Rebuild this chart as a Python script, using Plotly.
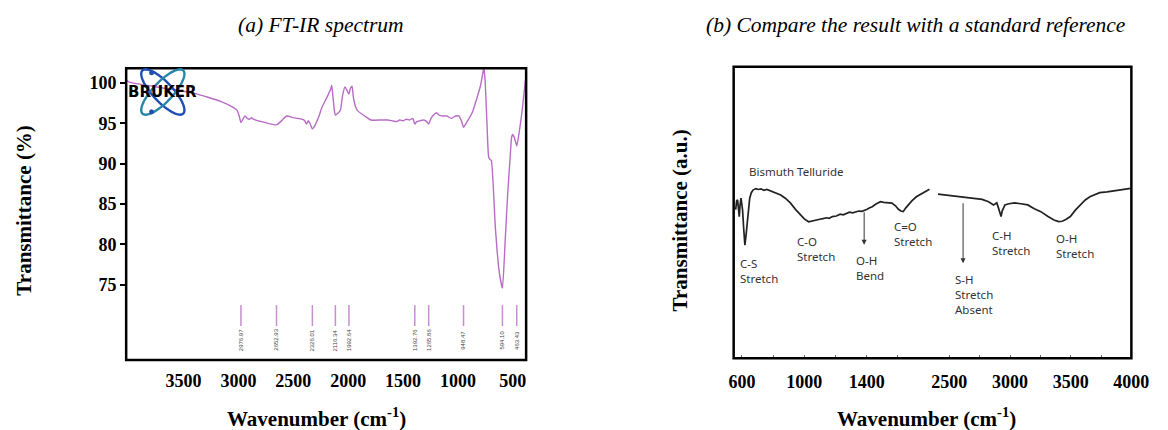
import math
import plotly.graph_objects as go

W, H = 1168, 430

# ---------------- panel (a): FT-IR spectrum ----------------
ftir_wavenumber = [4020, 3995, 3700, 3400, 3162, 3040, 3012, 2995, 2977, 2955, 2940, 2920, 2900, 2880,
                   2864, 2760, 2653, 2600, 2560, 2500, 2420, 2395, 2380, 2363, 2348, 2326, 2300, 2268,
                   2238, 2190, 2160, 2150, 2140, 2125, 2116, 2095, 2071, 2050, 2029, 2015, 1993, 1980,
                   1965, 1950, 1925, 1910, 1850, 1791, 1700, 1640, 1600, 1560, 1530, 1500, 1470, 1440,
                   1410, 1393, 1375, 1350, 1310, 1285, 1266, 1245, 1215, 1195, 1170, 1135, 1100, 1061,
                   1020, 992, 965, 948, 920, 867, 793, 770, 764, 752, 735, 719, 705, 695, 659, 625,
                   594, 570, 545, 525, 510, 501, 485, 463, 440, 415, 385]
ftir_transmittance = [100.3, 100.1, 99.4, 98.7, 97.7, 96.9, 96.6, 96.0, 95.1, 95.6, 95.9, 95.6, 95.5, 95.7,
                      95.5, 95.1, 94.8, 95.4, 95.9, 95.7, 95.5, 95.3, 94.9, 95.3, 95.0, 94.3, 94.8, 95.8,
                      97.0, 98.3, 99.2, 99.7, 98.5, 96.5, 96.0, 96.2, 96.6, 98.5, 99.5, 99.2, 98.6, 99.3,
                      99.6, 98.0, 96.8, 96.5, 95.9, 95.4, 95.4, 95.4, 95.3, 95.2, 95.4, 95.3, 95.5, 95.4,
                      95.6, 94.9, 95.2, 95.3, 95.4, 95.2, 94.9, 95.6, 96.1, 96.3, 96.0, 95.9, 95.9, 95.6,
                      95.9, 95.9, 95.2, 94.5, 95.1, 96.4, 99.7, 101.4, 101.9, 100.3, 95.0, 90.8, 90.5, 90.4,
                      82.2, 76.8, 74.6, 80.2, 86.5, 90.5, 93.3, 93.6, 93.2, 92.2, 94.0, 96.5, 100.3]
peak_wavenumbers = [2976.97, 2652.93, 2326.01, 2116.34, 1992.64, 1392.76, 1265.86, 948.47, 594.10, 463.43]
peak_labels = ["2976.97", "2652.93", "2326.01", "2116.34", "1992.64",
               "1392.76", "1265.86", "948.47", "594.10", "463.43"]
a_yticks = [75, 80, 85, 90, 95, 100]
a_xticks = [3500, 3000, 2500, 2000, 1500, 1000, 500]

# ---------------- panel (b): standard reference ----------------
ref_low_wavenumber = [560, 566, 572, 578, 583, 588, 594, 599, 604, 612, 619, 626, 635, 643, 650, 660,
                      671, 690, 705, 723, 740, 760, 786, 810, 830, 849, 880, 912, 945, 975, 1000, 1028,
                      1050, 1080, 1100, 1120, 1143, 1160, 1180, 1206, 1230, 1250, 1269, 1290, 1310, 1332,
                      1350, 1370, 1384, 1400, 1420, 1436, 1460, 1489, 1510, 1540, 1562, 1585, 1604, 1620,
                      1635, 1650, 1667, 1690, 1719, 1740, 1772, 1803]
ref_low_signal = [51.0, 54.0, 54.3, 50.0, 48.6, 52.5, 54.9, 53.0, 50.9, 44.0, 38.8, 42.0, 47.4, 52.0, 54.9, 56.8,
                  57.7, 58.2, 57.9, 58.1, 57.6, 57.9, 57.4, 56.9, 56.5, 56.0, 54.8, 53.2, 51.0, 49.1, 47.8, 46.8,
                  47.0, 47.4, 47.7, 47.9, 48.2, 48.0, 48.6, 48.8, 49.4, 49.2, 49.7, 50.1, 49.9, 50.3,
                  50.5, 50.4, 50.6, 51.0, 51.6, 52.0, 52.9, 53.7, 53.5, 53.3, 53.2, 52.3, 51.1, 50.5,
                  50.3, 51.5, 52.6, 54.0, 55.4, 56.1, 57.1, 58.0]
ref_high_wavenumber = [2406, 2450, 2500, 2581, 2650, 2716, 2770, 2823, 2850, 2864, 2880, 2891, 2905, 2918,
                       2926, 2935, 2950, 2958, 2990, 3039, 3090, 3146, 3200, 3254, 3310, 3362, 3400, 3429,
                       3460, 3497, 3540, 3578, 3620, 3658, 3700, 3739, 3800, 3873, 3940, 3994]
ref_high_signal = [56.3, 56.1, 55.9, 55.5, 55.3, 54.9, 54.5, 53.7, 53.0, 52.6, 53.0, 53.3, 51.5, 49.0,
                   48.6, 50.5, 52.3, 52.6, 53.0, 53.3, 53.0, 52.6, 51.3, 50.3, 48.7, 47.4, 46.9, 47.0,
                   47.6, 48.6, 50.9, 52.6, 54.3, 55.4, 56.2, 56.8, 57.1, 57.5, 57.9, 58.3]
b_low_ticks = [600, 1000, 1400]
b_low_minor = [800, 1200, 1600]
b_high_ticks = [2500, 3000, 3500, 4000]
b_high_minor = [2750, 3250, 3750]

# band labels: text, segment, wavenumber (left edge), signal (centre)
band_labels = [
    ("Bismuth Telluride", "low", 633, 64.2),
    ("C-S<br>Stretch", "low", 577, 29.9),
    ("C-O<br>Stretch", "low", 941, 37.5),
    ("O-H<br>Bend", "low", 1319, 31.0),
    ("C=O<br>Stretch", "low", 1561, 42.6),
    ("S-H<br>Stretch<br>Absent", "high", 2527, 21.9),
    ("C-H<br>Stretch", "high", 2837, 39.7),
    ("O-H<br>Stretch", "high", 3362, 38.5),
]
# arrows: segment, wavenumber, tail signal, head signal
band_arrows = [("low", 1384, 50.6, 38.9), ("high", 2613, 53.7, 32.6)]


def pxX(x):
    return x / W


def pxY(y):
    return 1 - y / H


# layout geometry (pixels)
A_L, A_R, A_T, A_B = 123.6, 531.6, 68.3, 360.0
B_L, B_M, B_R, B_T, B_B = 743.3, 947.0, 1149.0, 66.7, 358.3

serif = "Liberation Serif"
fig = go.Figure()

fig.add_trace(go.Scatter(x=ftir_wavenumber, y=ftir_transmittance, mode="lines",
                         line=dict(color="#b86cc5", width=1.4, shape="spline", smoothing=0.5),
                         xaxis="x", yaxis="y", hoverinfo="skip"))
fig.add_trace(go.Scatter(x=ref_low_wavenumber, y=ref_low_signal, mode="lines",
                         line=dict(color="#222222", width=1.7),
                         xaxis="x2", yaxis="y2", hoverinfo="skip"))
fig.add_trace(go.Scatter(x=ref_high_wavenumber, y=ref_high_signal, mode="lines",
                         line=dict(color="#222222", width=1.7),
                         xaxis="x3", yaxis="y2", hoverinfo="skip"))

tickfont = dict(family=serif, size=18, color="black", weight="bold")

shapes = []
annotations = []

# peak marker lines + labels in panel (a)
for w, lab in zip(peak_wavenumbers, peak_labels):
    shapes.append(dict(type="line", xref="x", yref="y", x0=w, x1=w, y0=69.9, y1=72.5,
                       line=dict(color="#c58fd0", width=1.5)))
    annotations.append(dict(x=w, y=68.15, xref="x", yref="y", text=lab, showarrow=False,
                            textangle=-90, font=dict(family="Liberation Sans", size=6, color="#444444"),
                            xanchor="center", yanchor="middle"))

# frames
shapes.append(dict(type="rect", xref="paper", yref="paper", x0=pxX(A_L), x1=pxX(A_R),
                   y0=pxY(A_B), y1=pxY(A_T), line=dict(color="black", width=2.5)))
shapes.append(dict(type="rect", xref="paper", yref="paper", x0=pxX(B_L), x1=pxX(B_R),
                   y0=pxY(B_B), y1=pxY(B_T), line=dict(color="black", width=2.5)))


# Bruker logo (decoration)
def ellipse_path(cx, cy, a, b, ang_deg, n=60):
    t = math.radians(ang_deg)
    pts = []
    for i in range(n + 1):
        s = 2 * math.pi * i / n
        u, v = a * math.cos(s), b * math.sin(s)
        x = cx + u * math.cos(t) - v * math.sin(t)
        y = cy + u * math.sin(t) + v * math.cos(t)
        pts.append(f"{pxX(x):.5f},{pxY(y):.5f}")
    return "M " + " L ".join(pts) + " Z"


shapes.append(dict(type="path", xref="paper", yref="paper", path=ellipse_path(161, 92, 30, 10, 46),
                   line=dict(color="#1f4fb5", width=2.4)))
shapes.append(dict(type="path", xref="paper", yref="paper", path=ellipse_path(161, 92, 30, 10, -46),
                   line=dict(color="#2a86a8", width=2.4)))
for (dx, dy) in [(149.5, 72.7), (149.5, 111.7)]:
    shapes.append(dict(type="circle", xref="paper", yref="paper",
                       x0=pxX(dx - 2.5), x1=pxX(dx + 2.5), y0=pxY(dy + 2.5), y1=pxY(dy - 2.5),
                       fillcolor="#1f4fb5", line=dict(width=0)))
annotations.append(dict(x=pxX(160.5), y=pxY(92), xref="paper", yref="paper", text="<b>BRUKER</b>",
                        showarrow=False, font=dict(family="DejaVu Sans", size=15, color="black"),
                        xanchor="center", yanchor="middle"))

# band labels panel (b)
ax_of = {"low": ("x2", "y2"), "high": ("x3", "y2")}
for text, seg, w, s in band_labels:
    xr, yr = ax_of[seg]
    annotations.append(dict(x=w, y=s, xref=xr, yref=yr, text=text, showarrow=False, align="left",
                            xanchor="left", yanchor="middle",
                            font=dict(family="Noto Sans", size=11.5, color="#333333")))
for seg, w, tail, head in band_arrows:
    xr, yr = ax_of[seg]
    annotations.append(dict(x=w, y=head, ax=w, ay=tail, xref=xr, yref=yr, axref=xr, ayref=yr,
                            text="", showarrow=True, arrowhead=2, arrowsize=1, arrowwidth=1,
                            arrowcolor="#333333"))

# titles
title_font = dict(family=serif, size=21.5, color="black")
annotations.append(dict(x=pxX(322), y=pxY(25), xref="paper", yref="paper", text="<i>(a) FT-IR spectrum</i>",
                        showarrow=False, font=title_font, xanchor="center", yanchor="middle"))
annotations.append(dict(x=pxX(929), y=pxY(25), xref="paper", yref="paper",
                        text="<i>(b) Compare the result with a standard reference</i>",
                        showarrow=False, font=title_font, xanchor="center", yanchor="middle"))
axis_title_font = dict(family=serif, size=21, color="black")
annotations.append(dict(x=pxX(19), y=pxY(210), xref="paper", yref="paper", text="<b>Transmittance (%)</b>",
                        showarrow=False, textangle=-90, font=axis_title_font,
                        xanchor="center", yanchor="middle"))
annotations.append(dict(x=pxX(689), y=pxY(220), xref="paper", yref="paper", text="<b>Transmittance (a.u.)</b>",
                        showarrow=False, textangle=-90, font=axis_title_font,
                        xanchor="center", yanchor="middle"))
annotations.append(dict(x=pxX(318), y=pxY(417), xref="paper", yref="paper",
                        text="<b>Wavenumber (cm<sup>-1</sup>)</b>",
                        showarrow=False, font=axis_title_font, xanchor="center", yanchor="middle"))
annotations.append(dict(x=pxX(940), y=pxY(417), xref="paper", yref="paper",
                        text="<b>Wavenumber (cm<sup>-1</sup>)</b>",
                        showarrow=False, font=axis_title_font, xanchor="center", yanchor="middle"))

common = dict(showgrid=False, zeroline=False, showline=False)
minor_style = dict(ticks="inside", ticklen=3, tickwidth=1, tickcolor="#666666", showgrid=False)

fig.update_layout(
    width=W, height=H, margin=dict(l=0, r=0, t=0, b=0), autosize=False,
    paper_bgcolor="white", plot_bgcolor="white", showlegend=False,
    xaxis=dict(domain=[pxX(A_L), pxX(A_R)], range=[4023, 378], anchor="y",
               tickvals=a_xticks, ticks="", tickfont=tickfont, ticklabelstandoff=8, **common),
    yaxis=dict(domain=[pxY(A_B), pxY(A_T)], range=[65.7, 101.8], anchor="x",
               tickvals=a_yticks, ticks="outside", ticklen=5, tickwidth=1.5, tickcolor="black",
               tickfont=tickfont, **common),
    xaxis2=dict(domain=[pxX(B_L), pxX(B_M)], range=[547, 1828], anchor="y2",
                tickvals=b_low_ticks, ticks="inside", ticklen=3,
                tickwidth=1, tickcolor="#666666", tickfont=tickfont, ticklabelstandoff=11,
                minor=dict(tickvals=b_low_minor, **minor_style), **common),
    xaxis3=dict(domain=[pxX(B_M), pxX(B_R)], range=[2368, 4000], anchor="y2",
                tickvals=b_high_ticks, ticks="inside", ticklen=3,
                tickwidth=1, tickcolor="#666666", tickfont=tickfont, ticklabelstandoff=11,
                minor=dict(tickvals=b_high_minor, **minor_style), **common),
    yaxis2=dict(domain=[pxY(B_B), pxY(B_T)], range=[0, 100], anchor="x2",
                showticklabels=False, ticks="", **common),
    shapes=shapes, annotations=annotations,
)

post = ("document.documentElement.style.margin='0';document.documentElement.style.padding='0';"
        "document.documentElement.style.overflow='hidden';"
        "document.body.style.margin='0';document.body.style.padding='0';"
        "document.body.style.overflow='hidden';")
fig.write_html("out.html", config={"displayModeBar": False, "responsive": False}, post_script=post)
